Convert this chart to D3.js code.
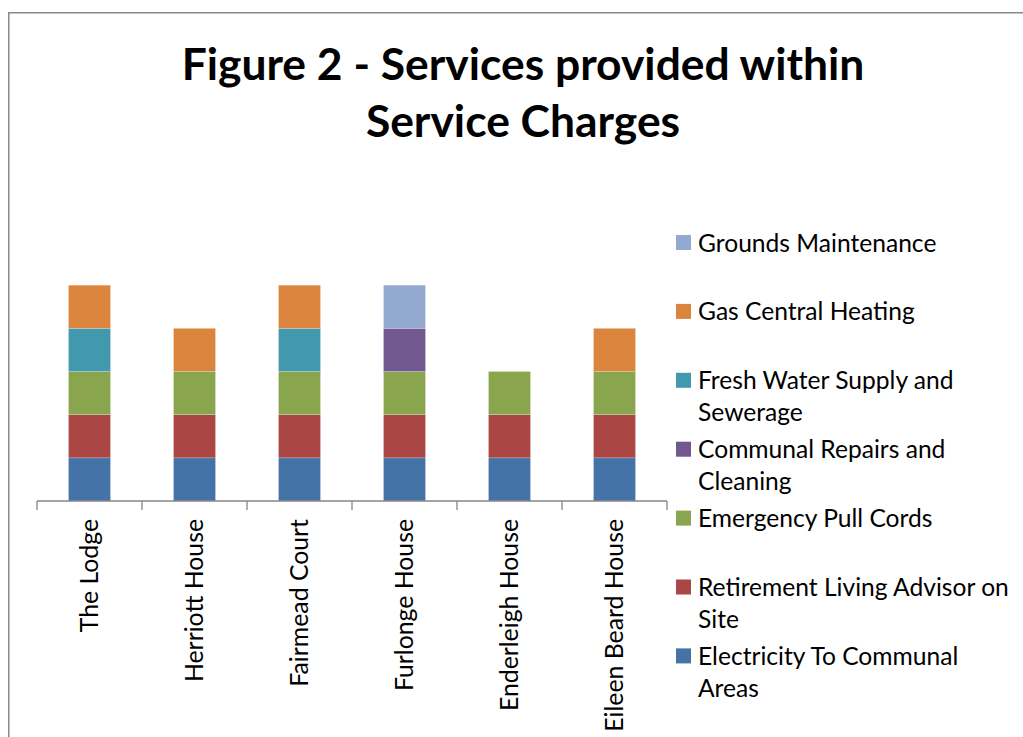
<!DOCTYPE html>
<html>
<head>
<meta charset="utf-8">
<script src="https://cdn.jsdelivr.net/npm/d3@7"></script>
<style>
  html, body { margin: 0; padding: 0; background: #fff; }
  svg { display: block; }
</style>
</head>
<body>
<svg id="chart" width="1023" height="737"></svg>
<script>
// Properties (one bar per scheme)
const categories = ["The Lodge", "Herriott House", "Fairmead Court", "Furlonge House", "Enderleigh House", "Eileen Beard House"];

// Service names, stacking order bottom to top
const seriesNames = [
  "Electricity To Communal Areas",
  "Retirement Living Advisor on Site",
  "Emergency Pull Cords",
  "Communal Repairs and Cleaning",
  "Fresh Water Supply and Sewerage",
  "Gas Central Heating",
  "Grounds Maintenance"
];

// 1 = service provided at that property
const electricity = [1, 1, 1, 1, 1, 1];
const retirementAdvisor = [1, 1, 1, 1, 1, 1];
const emergencyCords = [1, 1, 1, 1, 1, 1];
const communalRepairs = [0, 0, 0, 1, 0, 0];
const freshWater = [1, 0, 1, 0, 0, 0];
const gasHeating = [1, 1, 1, 0, 0, 1];
const groundsMaintenance = [0, 0, 0, 1, 0, 0];

const seriesValues = [electricity, retirementAdvisor, emergencyCords, communalRepairs, freshWater, gasHeating, groundsMaintenance];
const seriesColors = ["#4572A7", "#AA4643", "#89A54E", "#71588F", "#4198AF", "#DB843D", "#93A9CF"];

// Legend lines (legend lists top series first)
const legendLines = {
  "Grounds Maintenance": ["Grounds Maintenance"],
  "Gas Central Heating": ["Gas Central Heating"],
  "Fresh Water Supply and Sewerage": ["Fresh Water Supply and", "Sewerage"],
  "Communal Repairs and Cleaning": ["Communal Repairs and", "Cleaning"],
  "Emergency Pull Cords": ["Emergency Pull Cords"],
  "Retirement Living Advisor on Site": ["Retirement Living Advisor on", "Site"],
  "Electricity To Communal Areas": ["Electricity To Communal", "Areas"]
};

const titleLines = ["Figure 2 - Services provided within", "Service Charges"];

const FONT = "Lato, 'Open Sans', 'Liberation Sans', sans-serif";
const svg = d3.select("#chart");

// Outer chart frame
svg.append("rect")
  .attr("x", 8.75).attr("y", 12.75)
  .attr("width", 1100).attr("height", 800)
  .attr("fill", "#fff")
  .attr("stroke", "#8a8a8a")
  .attr("stroke-width", 1.5);

// Title
const title = svg.append("text")
  .attr("text-anchor", "middle")
  .attr("font-family", FONT)
  .attr("font-weight", 700)
  .attr("font-size", 44.4)
  .attr("fill", "#000");
titleLines.forEach((t, i) => {
  title.append("tspan").attr("x", 523).attr("y", 80 + i * 57).text(t);
});

// Scales
const plot = { left: 37, right: 667, base: 501, top: 242 };
const x = d3.scaleBand().domain(categories).range([plot.left, plot.right]).paddingInner(0.6).paddingOuter(0.3);
const y = d3.scaleLinear().domain([0, 6]).range([plot.base, plot.top]);

// Stacked data
const table = categories.map((c, i) => {
  const row = { category: c };
  seriesNames.forEach((s, j) => { row[s] = seriesValues[j][i]; });
  return row;
});
const stacked = d3.stack().keys(seriesNames)(table);

svg.append("g")
  .selectAll("g")
  .data(stacked)
  .join("g")
  .attr("fill", (d, i) => seriesColors[i])
  .selectAll("rect")
  .data(d => d.filter(p => p[1] - p[0] > 0))
  .join("rect")
  .attr("x", d => x(d.data.category))
  .attr("width", x.bandwidth())
  .attr("y", d => y(d[1]))
  .attr("height", d => y(d[0]) - y(d[1]))
  .attr("stroke", "rgba(255,255,255,0.35)")
  .attr("stroke-width", 0.6);

// Category axis: baseline with tick marks between categories
const axis = svg.append("g").attr("stroke", "#868686").attr("stroke-width", 1.3);
axis.append("line")
  .attr("x1", plot.left).attr("x2", plot.right)
  .attr("y1", plot.base).attr("y2", plot.base);
d3.range(categories.length + 1).forEach(i => {
  const tx = plot.left + i * (plot.right - plot.left) / categories.length;
  axis.append("line")
    .attr("x1", tx).attr("x2", tx)
    .attr("y1", plot.base).attr("y2", plot.base + 9);
});

// Rotated category labels
svg.append("g")
  .selectAll("text")
  .data(categories)
  .join("text")
  .attr("transform", d => `translate(${x(d) + x.bandwidth() / 2},519) rotate(-90)`)
  .attr("text-anchor", "end")
  .attr("dy", "0.36em")
  .attr("font-family", FONT)
  .attr("font-size", 24.8)
  .attr("fill", "#000")
  .text(d => d);

// Legend
const legendOrder = seriesNames.slice().reverse();
const legend = svg.append("g");
legendOrder.forEach((name, i) => {
  const cy = 242.5 + i * 68.9;
  const colorIdx = seriesNames.indexOf(name);
  legend.append("rect")
    .attr("x", 676).attr("y", cy - 7.5)
    .attr("width", 15).attr("height", 15)
    .attr("fill", seriesColors[colorIdx]);
  const t = legend.append("text")
    .attr("font-family", FONT)
    .attr("font-size", 24.6)
    .attr("fill", "#000");
  legendLines[name].forEach((line, k) => {
    t.append("tspan").attr("x", 698).attr("y", cy + 9 + k * 32).text(line);
  });
});
</script>
</body>
</html>
